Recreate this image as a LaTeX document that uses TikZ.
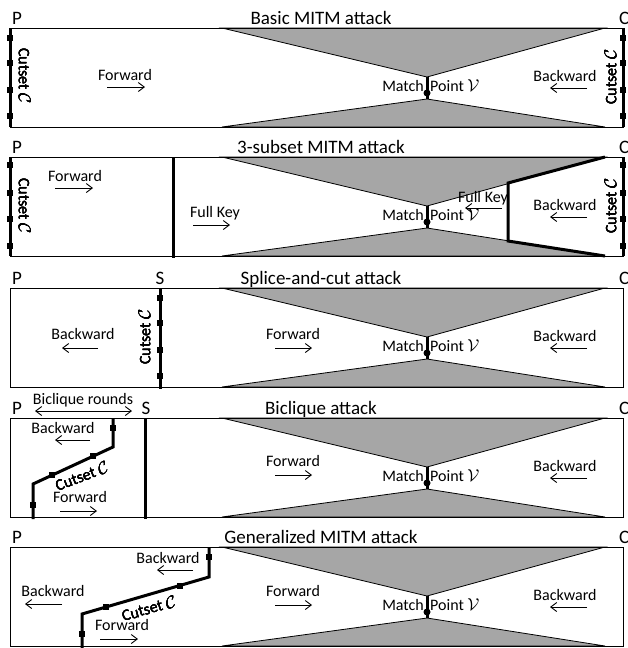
\documentclass[tikz,border=0pt]{standalone}
\usepackage{fontspec}
\setmainfont{Carlito}
\usetikzlibrary{arrows.meta, positioning}
\definecolor{shade}{gray}{0.65}
\newcommand{\cutdot}[1]{\fill (#1) ++(-2.8,-2.8) rectangle ++(5.6,5.6);}

\begin{document}
\begin{tikzpicture}[x=1pt, y=-1pt,
    lbl/.style={font=\fontsize{16}{18}\selectfont, inner sep=0pt, text height=10.5pt, text depth=0pt},
    ttl/.style={font=\fontsize{19}{22}\selectfont, inner sep=0pt, anchor=base},
    cut/.style={line width=3pt},
    barb/.tip={Straight Barb[length=6pt, width=9pt]},
    dir/.style={-barb, line width=0.9pt}]
    \useasboundingbox (0,0) rectangle (627,648);

    % Parts shared by all five panels
    \foreach \T/\atk [count=\i] in {28/Basic MITM attack, 157/3-subset MITM attack, 288/Splice-and-cut attack, 418/Biclique attack, 547/Generalized MITM attack} {
        % hourglass
        \filldraw[fill=shade, line width=0.8pt] (222,\T) -- (605,\T) -- (427,\T+49) -- cycle;
        \filldraw[fill=shade, line width=0.8pt] (222,\T+99) -- (605,\T+99) -- (427,\T+71) -- cycle;
        % panel frame
        \draw[line width=0.8pt] (10,\T) rectangle (623,\T+99);
        % match point
        \draw[cut] (427,\T+49) -- (427,\T+71);
        \fill (427,\T+65) circle[radius=3.5pt];
        \node[lbl, anchor=east] (match\i) at (424,\T+58) {Match};
        \node[lbl, anchor=west] (point\i) at (430,\T+58) {Point $\mathcal{V}$};
        % titles
        \node[ttl] (title\i) at (321,\T-4) {\atk};
        \node[ttl] (p\i) at (17,\T-4) {P};
        \node[ttl, anchor=base west] (c\i) at (619,\T-4) {C};
        % backward from C
        \node[lbl] (bwr\i) at (565,\T+48) {Backward};
        \draw[dir] (587,\T+60) -- (550,\T+60);
    }

    % Panel 1: basic MITM
    \draw[cut] (10,28) -- (10,127);
    \foreach \y in {38,63,90,116} \cutdot{10,\y}
    \node[lbl, rotate=-90] (csl1) at (24,76) {Cutset $\mathcal{C}$};
    \draw[cut] (623,28) -- (623,127);
    \foreach \y in {38,63,90,116} \cutdot{623,\y}
    \node[lbl, rotate=90] (csr1) at (611,77) {Cutset $\mathcal{C}$};
    \node[lbl] (fw1) at (125,75) {Forward};
    \draw[dir] (107,87) -- (145,87);

    % Panel 2: 3-subset MITM
    \draw[cut] (10,157) -- (10,256);
    \foreach \y in {165,193,219,246} \cutdot{10,\y}
    \node[lbl, rotate=-90] (csl2) at (24,206) {Cutset $\mathcal{C}$};
    \draw[cut] (623,157) -- (623,256);
    \foreach \y in {165,193,219,246} \cutdot{623,\y}
    \node[lbl, rotate=90] (csr2) at (611,206) {Cutset $\mathcal{C}$};
    \node[lbl] (fw2) at (75,176) {Forward};
    \draw[dir] (55,188) -- (93,188);
    \draw[cut] (173,157) -- (173,258);
    \node[lbl] (fk2) at (215,212) {Full Key};
    \draw[dir] (193,225) -- (230,225);
    \draw[cut] (605,157) -- (508,183) -- (508,241) -- (605,256);
    \node[lbl] (fkr2) at (483,197) {Full Key};
    \draw[dir] (502,208) -- (465,208);

    % Panel 3: splice-and-cut
    \node[ttl] (s3) at (160,284) {S};
    \draw[cut] (160,288) -- (160,389);
    \foreach \y in {298,323,350,376} \cutdot{160,\y}
    \node[lbl, rotate=90] (cs3) at (145,337) {Cutset $\mathcal{C}$};
    \node[lbl] (bw3) at (83,334) {Backward};
    \draw[dir] (98,348) -- (62,348);
    \node[lbl] (fw3) at (293,334) {Forward};
    \draw[dir] (275,348) -- (312,348);

    % Panel 4: biclique
    \node[ttl] (s4) at (146,414) {S};
    \node[lbl] (rounds) at (83,399) {Biclique rounds};
    \draw[barb-barb, line width=0.9pt] (35,411) -- (132,411);
    \draw[cut] (145,418) -- (145,519);
    \draw[cut] (113,418) -- (113,447) -- (33,484) -- (33,519);
    \foreach \p in {{113,428},{93,456},{52,475},{33,505}} \cutdot{\p}
    \node[lbl, rotate=21] (cs4) at (82,477) {Cutset $\mathcal{C}$};
    \node[lbl] (bw4) at (63,428) {Backward};
    \draw[dir] (90,440) -- (55,440);
    \node[lbl] (fw4) at (80,497) {Forward};
    \draw[dir] (60,511) -- (97,511);
    \node[lbl] (fwr4) at (293,461) {Forward};
    \draw[dir] (275,475) -- (312,475);

    % Panel 5: generalized MITM
    \draw[cut] (209,547) -- (209,577) -- (82,614) -- (82,648);
    \foreach \p in {{209,557},{180,586},{106,607},{82,634}} \cutdot{\p}
    \node[lbl, rotate=15] (cs5) at (149,609) {Cutset $\mathcal{C}$};
    \node[lbl] (bwu5) at (168,558) {Backward};
    \draw[dir] (193,570) -- (157,570);
    \node[lbl] (bw5) at (53,591) {Backward};
    \draw[dir] (62,604) -- (25,604);
    \node[lbl] (fw5) at (122,625) {Forward};
    \draw[dir] (100,639) -- (138,639);
    \node[lbl] (fwr5) at (293,591) {Forward};
    \draw[dir] (275,605) -- (312,605);
\end{tikzpicture}
\end{document}
